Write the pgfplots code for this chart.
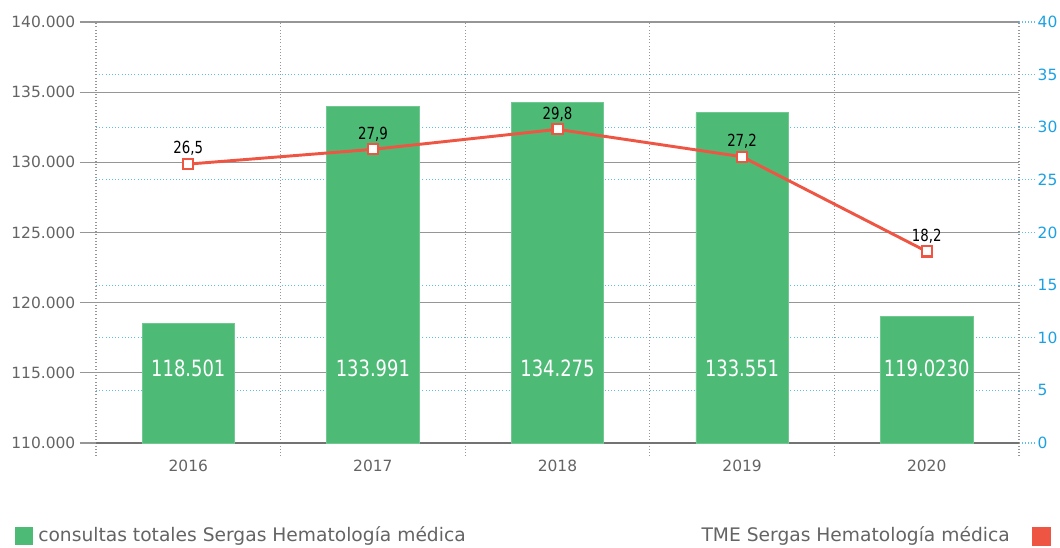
\documentclass[border=0pt]{standalone}
\usepackage{pgfplots}
\pgfplotsset{compat=1.18}
\usepackage{fontspec}
\setmainfont{DejaVu Sans}
\newfontfamily\cond[FakeStretch=0.8]{DejaVu Sans}

\definecolor{barGreen}{RGB}{77,186,118}
\definecolor{lineRed}{RGB}{239,85,67}
\definecolor{gridGray}{RGB}{150,150,150}
\definecolor{tickGray}{RGB}{100,100,100}
\definecolor{skyBlue}{RGB}{27,161,226}
\definecolor{dotBlue}{RGB}{90,190,235}

\pgfplotsset{
  base/.style={
    at={(0,0)}, anchor=south west,
    scale only axis, width=692.25pt, height=315.75pt,
    xmin=-0.5, xmax=4.5,
    tick align=outside,
  },
}

\begin{document}
\begin{tikzpicture}
% right scale: dotted blue grid and ticks
\begin{axis}[base,
  ymin=0, ymax=40,
  axis x line=none, axis y line*=right,
  y axis line style={draw=none},
  ytick={0,5,...,40},
  yticklabels={0,5,10,15,20,25,30,35,40},
  ymajorgrids,
  grid style={dotted, dotBlue, line width=0.8pt},
  major tick length=11.5pt,
  ytick style={draw=dotBlue, dotted, line width=0.8pt},
  yticklabel style={skyBlue, font=\fontsize{11.6}{13}\selectfont, xshift=-1pt},
]
\end{axis}

% left scale: grid and bars
\begin{axis}[base,
  ymin=110000, ymax=140000,
  scaled y ticks=false,
  axis x line*=bottom, axis y line*=left,
  y axis line style={draw=none},
  x axis line style={-, draw=gray!110, line width=1.4pt},
  xtick={0,...,4},
  xticklabels={2016,2017,2018,2019,2020},
  minor xtick={-0.5,0.5,...,4.5},
  xtick style={draw=none},
  minor tick length=9pt,
  minor x tick style={draw=gridGray, dotted, line width=0.8pt},
  xminorgrids,
  minor x grid style={dotted, gridGray, line width=0.8pt},
  ytick={110000,115000,...,140000},
  yticklabels={110.000,115.000,120.000,125.000,130.000,135.000,140.000},
  ymajorgrids,
  major y grid style={gridGray, line width=0.8pt},
  ytick style={draw=gridGray, solid, line width=0.8pt},
  major tick length=12pt,
  ticklabel style={tickGray, font=\fontsize{11.6}{13}\selectfont},
  xticklabel style={yshift=3pt},
]
\addplot[ybar, bar width=0.5, fill=barGreen, draw=barGreen!80!white]
  coordinates {(0,118501) (1,133991) (2,134275) (3,133551) (4,119023)};
\addplot[draw=none, mark=none, nodes near coords, point meta=explicit symbolic,
  nodes near coords style={white, anchor=center, font=\cond\fontsize{16.8}{18}\selectfont}]
  coordinates {(0,115350) [118.501] (1,115350) [133.991] (2,115350) [134.275]
               (3,115350) [133.551] (4,115350) [119.0230]};
\end{axis}

% line on the right scale
\begin{axis}[base,
  ymin=0, ymax=40,
  hide axis,
]
\addplot[lineRed, line width=2.2pt, mark=square*,
  mark options={fill=white, draw=lineRed, line width=1.6pt},
  mark size=3.8pt,
  nodes near coords, point meta=explicit symbolic,
  nodes near coords style={black, anchor=south, yshift=2pt, font=\cond\fontsize{12.5}{14}\selectfont}]
  coordinates {(0,26.5) [26,5] (1,27.9) [27,9] (2,29.8) [29,8] (3,27.2) [27,2] (4,18.2) [18,2]};
\end{axis}

% legend
\fill[barGreen] (-61pt,-76.5pt) rectangle (-47.5pt,-63pt);
\node[anchor=west, text=tickGray, font=\fontsize{14}{16}\selectfont, inner sep=0pt]
  at (-43.5pt,-69.75pt) {consultas totales Sergas Hematología médica};
\node[anchor=east, text=tickGray, font=\fontsize{14}{16}\selectfont, inner sep=0pt]
  at (685.5pt,-69.75pt) {TME Sergas Hematología médica};
\fill[lineRed] (702pt,-77.5pt) rectangle (716.25pt,-63.25pt);

\pgfresetboundingbox
\useasboundingbox (-72pt,-78pt) rectangle (723pt,332.25pt);
\end{tikzpicture}
\end{document}
